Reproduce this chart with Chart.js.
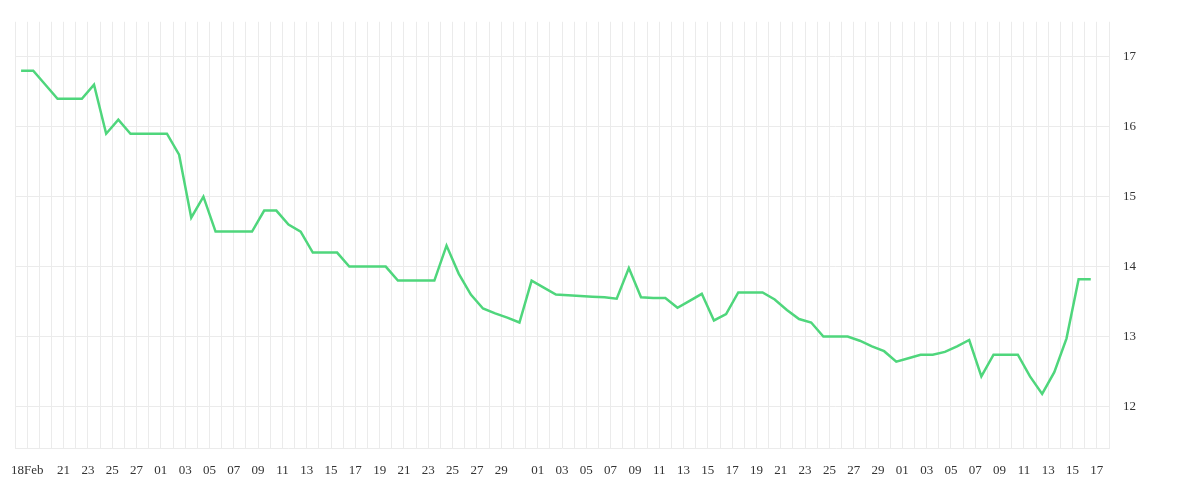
<!DOCTYPE html>
<html><head><script src="https://cdn.jsdelivr.net/npm/chart.js@4"></script>
<style>html,body{margin:0;padding:0;background:#fff}#w{width:1200px;height:500px}</style></head>
<body><div id="w"><canvas id="c"></canvas></div>
<script>
const values=[16.8,16.8,16.6,16.4,16.4,16.4,16.6,15.9,16.1,15.9,15.9,15.9,15.9,15.6,14.7,15.0,14.5,14.5,14.5,14.5,14.8,14.8,14.6,14.5,14.2,14.2,14.2,14.0,14.0,14.0,14.0,13.8,13.8,13.8,13.8,14.3,13.9,13.6,13.4,13.33,13.27,13.2,13.8,13.7,13.6,13.59,13.58,13.57,13.56,13.54,13.98,13.56,13.55,13.55,13.41,13.51,13.61,13.23,13.32,13.63,13.63,13.63,13.53,13.38,13.25,13.2,13.0,13.0,13.0,12.94,12.86,12.79,12.64,12.69,12.74,12.74,12.78,12.86,12.95,12.43,12.74,12.74,12.74,12.43,12.18,12.49,12.97,13.82,13.82];
const tickPositions=[1,4,6,8,10,12,14,16,18,20,22,24,26,28,30,32,34,36,38,40,43,45,47,49,51,53,55,57,59,61,63,65,67,69,71,73,75,77,79,81,83,85,87,89];
const tickLabels=["18Feb","21","23","25","27","01","03","05","07","09","11","13","15","17","19","21","23","25","27","29","01","03","05","07","09","11","13","15","17","19","21","23","25","27","29","01","03","05","07","09","11","13","15","17"];
const yTicks=[12,13,14,15,16,17];
const points=values.map((v,i)=>({x:i+0.5,y:v}));
const grid='#ebebeb';
const font={family:'"Liberation Serif", serif',size:13};
new Chart(document.getElementById('c'),{type:'line',
data:{datasets:[{data:points,borderColor:'#4fd67c',borderWidth:2.5,pointRadius:0,tension:0,fill:false}]},
options:{responsive:true,maintainAspectRatio:false,animation:false,
layout:{padding:{left:15,right:50,top:12,bottom:8}},
plugins:{legend:{display:false},tooltip:{enabled:false}},
scales:{
x:{type:'linear',min:0,max:90,
afterBuildTicks:s=>{s.ticks=Array.from({length:91},(_,k)=>({value:k}));},
grid:{color:grid,drawTicks:false},border:{color:grid},
ticks:{autoSkip:false,maxRotation:0,padding:14,color:'#333',font,
callback:(v)=>{const j=tickPositions.indexOf(v);return j>=0?tickLabels[j]:'';}}},
y:{position:'right',min:11.4,max:17.5,
afterBuildTicks:s=>{s.ticks=yTicks.map(v=>({value:v}));},
grid:{color:grid,drawTicks:false},border:{display:false},
ticks:{padding:14,color:'#333',font}}
}}});
</script></body></html>
